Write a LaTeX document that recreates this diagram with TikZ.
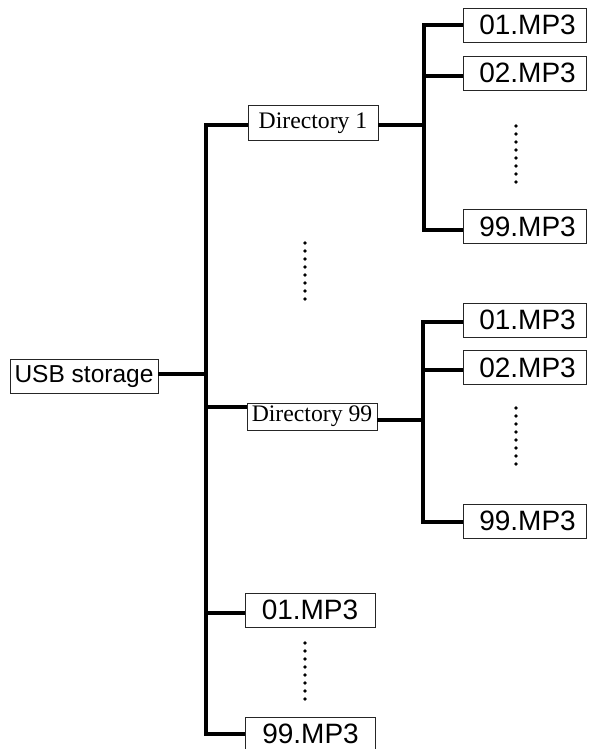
\documentclass[tikz,border=0pt]{standalone}
\usepackage{fontspec}
\setmainfont{Liberation Serif}
\setsansfont{Liberation Sans}
\newcommand\mpfont{\fontsize{28}{30}\selectfont\sffamily}
\newcommand\usbfont{\fontsize{24.5}{28}\selectfont\sffamily}
\newcommand\dirfont{\fontsize{23.7}{26}\selectfont\rmfamily}
\tikzset{
  box/.style={draw=black!85, line width=0.8pt, inner sep=0pt, fill=white},
  filebox/.style={box, minimum width=123pt, minimum height=34pt, font=\mpfont},
  filebottom/.style={box, minimum width=130pt, minimum height=34pt, font=\mpfont},
  dirbox/.style={box, minimum width=130pt, font=\dirfont},
  conn/.style={line width=4pt, line cap=butt, line join=miter},
  vdot/.style={fill=black, draw=none, circle, minimum size=3.8pt, inner sep=0pt}
}
\begin{document}
\begin{tikzpicture}[x=1pt,y=-1pt]
\useasboundingbox (0,0) rectangle (589,749);
% nodes
\node[box, minimum width=148pt, minimum height=34pt, font=\usbfont] (usb) at (84,376) {USB storage};
\node[dirbox, minimum height=35pt] (d1) at (313,123) {Directory 1};
\node[dirbox, minimum height=27pt] (d99) at (312,416.5) {Directory 99};
\node[filebox] (a1) at (524.5,25) {\hspace{6pt}01.MP3};
\node[filebox] (a2) at (524.5,73) {\hspace{6pt}02.MP3};
\node[filebox] (a99) at (524.5,226.5) {\hspace{6pt}99.MP3};
\node[filebox] (b1) at (524.5,320) {\hspace{6pt}01.MP3};
\node[filebox] (b2) at (524.5,367.5) {\hspace{6pt}02.MP3};
\node[filebox] (b99) at (524.5,521) {\hspace{6pt}99.MP3};
\node[filebottom] (c1) at (310,610) {01.MP3};
\node[filebottom] (c99) at (310.5,734) {99.MP3};
% trunk coordinates
\coordinate (mt) at (206,125);
\coordinate (sa) at (424,125);
\coordinate (sb) at (423,420);
% main trunk
\draw[conn] ([yshift=-2pt]d1.west) -- (mt) -- (mt |- c99.west) -- (c99.west);
\draw[conn] ([yshift=2pt]usb.east) -- ([yshift=2pt]usb.east -| mt);
\draw[conn] ([yshift=9.5pt]d99.west) -- ([yshift=9.5pt]d99.west -| mt);
\draw[conn] ([yshift=-3pt]c1.west) -- ([yshift=-3pt]c1.west -| mt);
% sub trunk A
\draw[conn] ([yshift=-2pt]d1.east) -- (sa);
\draw[conn] (a1.west) -- (a1.west -| sa) -- ([yshift=-3pt]a99.west -| sa) -- ([yshift=-3pt]a99.west);
\draw[conn] ([yshift=-3pt]a2.west) -- ([yshift=-3pt]a2.west -| sa);
% sub trunk B
\draw[conn] ([yshift=-3.5pt]d99.east) -- (sb);
\draw[conn] ([yshift=-2pt]b1.west) -- ([yshift=-2pt]b1.west -| sb) -- ([yshift=-1pt]b99.west -| sb) -- ([yshift=-1pt]b99.west);
\draw[conn] ([yshift=-2.5pt]b2.west) -- ([yshift=-2.5pt]b2.west -| sb);
% dots
\foreach \k in {0,...,7} {
  \node[vdot] (dm\k) at (305,243+8*\k) {};
  \node[vdot] (da\k) at (516,126+8*\k) {};
  \node[vdot] (db\k) at (516,408+8*\k) {};
  \node[vdot] (dc\k) at (305,643+8*\k) {};
}
\end{tikzpicture}
\end{document}
